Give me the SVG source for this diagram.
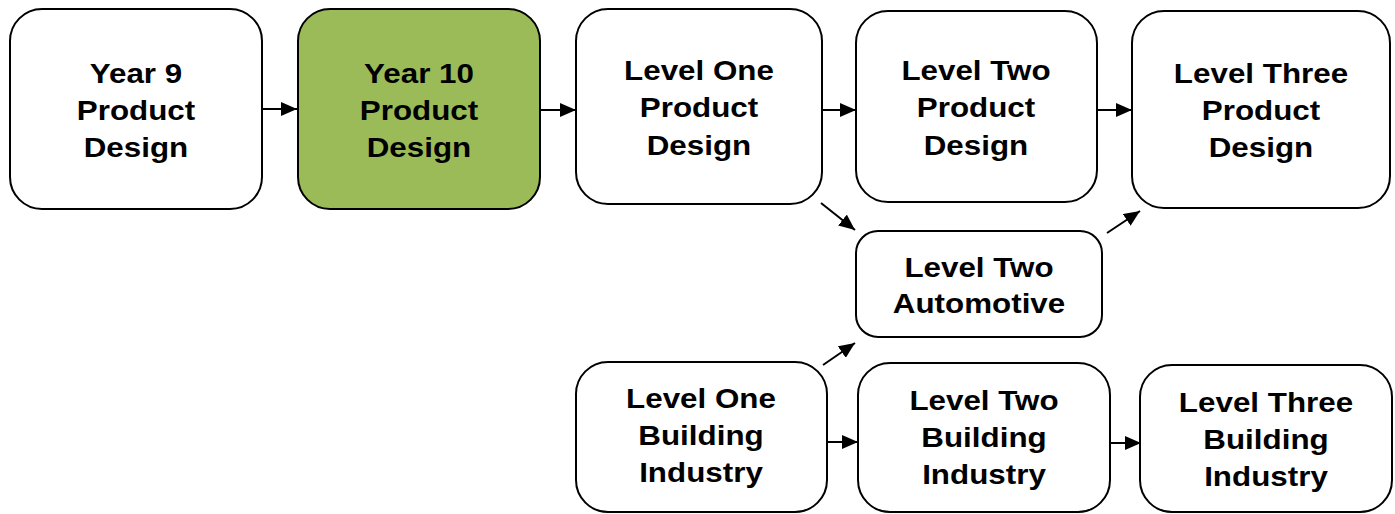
<svg xmlns="http://www.w3.org/2000/svg" width="1395" height="514" viewBox="0 0 1395 514">
<style>
.box{fill:#fff;stroke:#000;stroke-width:2}
.green{fill:#9BBB59}
text{font-family:"Liberation Sans",Arial,sans-serif;font-weight:bold;font-size:28px;text-anchor:middle;fill:#000}
.conn{stroke:#000;stroke-width:2;fill:none;marker-end:url(#ah)}
</style>
<defs>
<marker id="ah" viewBox="0 0 10 10" refX="10" refY="5" markerWidth="16" markerHeight="14" markerUnits="userSpaceOnUse" orient="auto" preserveAspectRatio="none">
<path d="M0,0 L10,5 L0,10 z" fill="#000"/>
</marker>
</defs>
<rect width="1395" height="514" fill="#fff"/>
<g id="connectors">
<line class="conn" x1="260" y1="109" x2="297" y2="109"/>
<line class="conn" x1="541" y1="110" x2="576" y2="110"/>
<line class="conn" x1="822" y1="110" x2="856" y2="110"/>
<line class="conn" x1="1097" y1="110" x2="1132" y2="110"/>
<line class="conn" x1="821" y1="203" x2="855" y2="230"/>
<line class="conn" x1="1107" y1="233" x2="1140" y2="211"/>
<line class="conn" x1="823" y1="365" x2="855" y2="343"/>
<line class="conn" x1="827" y1="442" x2="858" y2="442"/>
<line class="conn" x1="1111" y1="443" x2="1141" y2="443"/>
</g>
<g id="n1"><rect class="box" x="10" y="9" width="252" height="200" rx="32"/>
<g transform="translate(136,0) scale(1.12,1)"><text x="0" y="83">Year 9</text><text x="0" y="120">Product</text><text x="0" y="157">Design</text></g></g>
<g id="n2"><rect class="box green" x="298" y="9" width="242" height="200" rx="32"/>
<g transform="translate(419,0) scale(1.12,1)"><text x="0" y="83">Year 10</text><text x="0" y="120">Product</text><text x="0" y="157">Design</text></g></g>
<g id="n3"><rect class="box" x="576" y="9" width="246" height="195" rx="32"/>
<g transform="translate(699,0) scale(1.12,1)"><text x="0" y="80">Level One</text><text x="0" y="117">Product</text><text x="0" y="155">Design</text></g></g>
<g id="n4"><rect class="box" x="856" y="11" width="241" height="191" rx="32"/>
<g transform="translate(976,0) scale(1.12,1)"><text x="0" y="80">Level Two</text><text x="0" y="117">Product</text><text x="0" y="155">Design</text></g></g>
<g id="n5"><rect class="box" x="1132" y="11" width="258" height="197" rx="32"/>
<g transform="translate(1261,0) scale(1.12,1)"><text x="0" y="83">Level Three</text><text x="0" y="120">Product</text><text x="0" y="157">Design</text></g></g>
<g id="n6"><rect class="box" x="856" y="231" width="246" height="106" rx="22"/>
<g transform="translate(979,0) scale(1.12,1)"><text x="0" y="277">Level Two</text><text x="0" y="313">Automotive</text></g></g>
<g id="n7"><rect class="box" x="576" y="362" width="251" height="150" rx="32"/>
<g transform="translate(701,0) scale(1.12,1)"><text x="0" y="408">Level One</text><text x="0" y="445">Building</text><text x="0" y="482">Industry</text></g></g>
<g id="n8"><rect class="box" x="858" y="363" width="252" height="149" rx="32"/>
<g transform="translate(984,0) scale(1.12,1)"><text x="0" y="410">Level Two</text><text x="0" y="447">Building</text><text x="0" y="484">Industry</text></g></g>
<g id="n9"><rect class="box" x="1140" y="365" width="252" height="147" rx="32"/>
<g transform="translate(1266,0) scale(1.12,1)"><text x="0" y="412">Level Three</text><text x="0" y="449">Building</text><text x="0" y="486">Industry</text></g></g>
</svg>
